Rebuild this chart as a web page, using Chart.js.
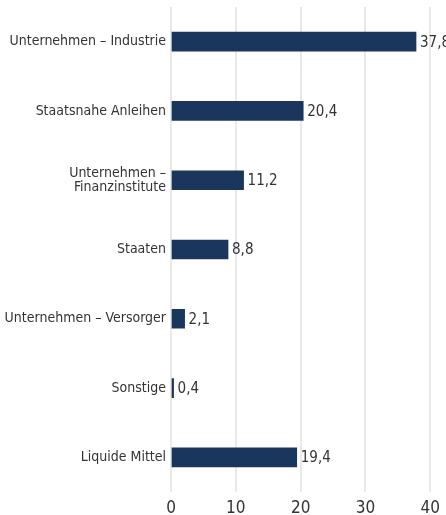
<!DOCTYPE html>
<html>
<head>
<meta charset="utf-8">
<script src="https://cdn.jsdelivr.net/npm/chart.js@4"></script>
<style>
  html, body { margin: 0; padding: 0; background: #fff; }
  #wrap { width: 446px; height: 515px; }
</style>
</head>
<body>
<div id="wrap"><canvas id="chart"></canvas></div>
<script>
const categories = [
    'Unternehmen – Industrie',
    'Staatsnahe Anleihen',
    ['Unternehmen –', 'Finanzinstitute'],
    'Staaten',
    'Unternehmen – Versorger',
    'Sonstige',
    'Liquide Mittel'
];
const values = [37.8, 20.4, 11.2, 8.8, 2.1, 0.4, 19.4];
const xTicks = [0, 10, 20, 30, 40];

const FONT = "'DejaVu Sans Condensed', sans-serif";
const TEXT = '#333333';

const valueLabels = {
    id: 'valueLabels',
    afterDatasetsDraw(chart) {
        const ctx = chart.ctx;
        const meta = chart.getDatasetMeta(0);
        ctx.save();
        ctx.font = '15px ' + FONT;
        ctx.fillStyle = TEXT;
        ctx.textAlign = 'left';
        ctx.textBaseline = 'middle';
        meta.data.forEach((bar, i) => {
            const txt = values[i].toFixed(1).replace('.', ',');
            ctx.fillText(txt, bar.x + 4, bar.y + 1);
        });
        ctx.restore();
    }
};

new Chart(document.getElementById('chart'), {
    type: 'bar',
    data: {
        labels: categories,
        datasets: [{
            data: values,
            backgroundColor: '#1b365d',
            barThickness: 19
        }]
    },
    options: {
        indexAxis: 'y',
        responsive: true,
        maintainAspectRatio: false,
        animation: false,
        layout: {
            padding: { top: 7, right: 15, left: 0, bottom: 0 }
        },
        scales: {
            x: {
                min: 0,
                max: 40,
                afterBuildTicks: (scale) => {
                    scale.ticks = xTicks.map(v => ({ value: v }));
                },
                afterFit: (scale) => { scale.height = 23; },
                grid: {
                    color: '#e9e9e9',
                    lineWidth: 2,
                    drawTicks: false
                },
                border: { display: false },
                ticks: {
                    padding: 6,
                    color: TEXT,
                    font: { family: FONT, size: 17 }
                }
            },
            y: {
                afterFit: (scale) => {
                    scale.width = 171;
                    scale.paddingTop = 0;
                    scale.paddingBottom = 0;
                },
                grid: { display: false, drawTicks: false },
                border: { display: false },
                ticks: {
                    padding: 5,
                    color: TEXT,
                    font: { family: FONT, size: 14, lineHeight: 1.0 }
                }
            }
        },
        plugins: {
            legend: { display: false },
            tooltip: { enabled: false }
        }
    },
    plugins: [valueLabels]
});
</script>
</body>
</html>
